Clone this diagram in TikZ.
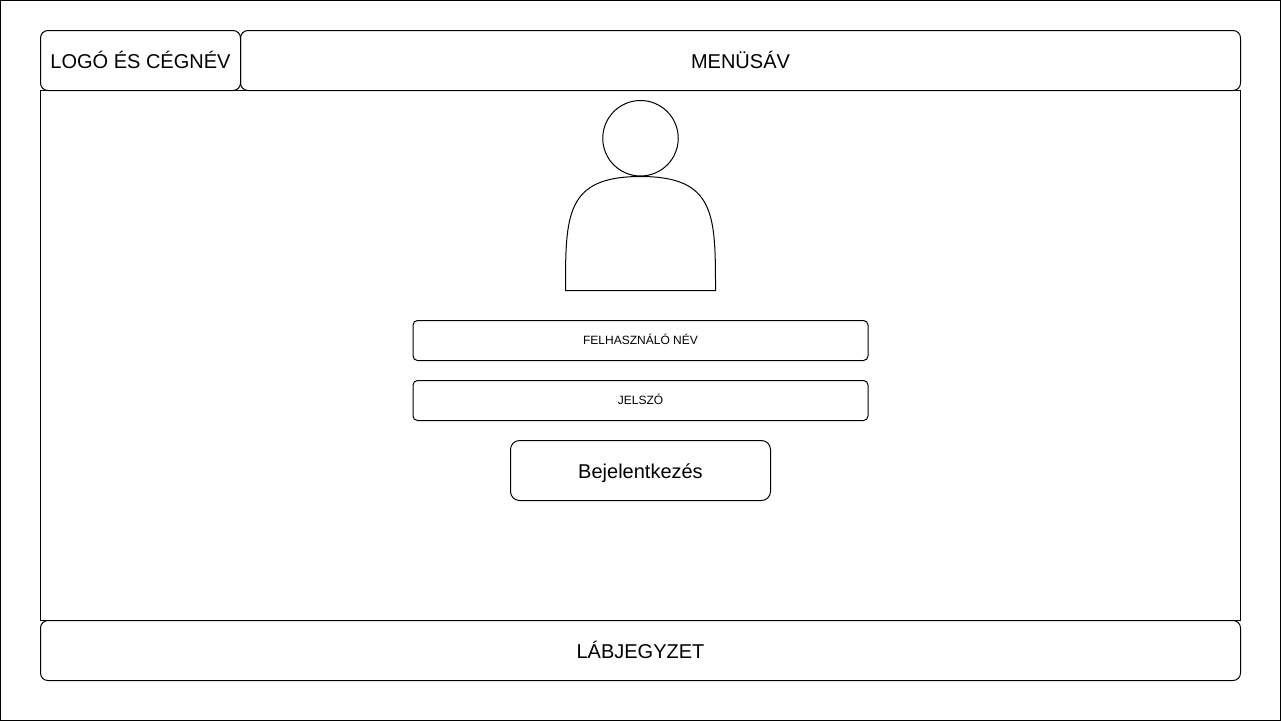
\documentclass[tikz,border=0pt]{standalone}
\usepackage{fontspec}
\setmainfont{Liberation Sans}
\usetikzlibrary{positioning}

\begin{document}
\begin{tikzpicture}[x=1pt, y=-1pt, every node/.style={draw=black, line width=1pt, inner sep=0pt, align=center},
    every path/.style={line width=1pt}]

    \tikzset{
        panel/.style={rounded corners=7.5pt, minimum height=60pt},
        inputbox/.style={rounded corners=4.5pt, minimum width=455pt, minimum height=40pt, text height=8pt, text depth=0pt, font=\fontsize{12}{14}\selectfont},
        bigtext/.style={text height=15pt, text depth=0pt, font=\fontsize{20}{24}\selectfont}
    }

    \node[minimum width=1280pt, minimum height=720pt] (page) at (640.5,360.5) {};
    \useasboundingbox (0,0) rectangle (1281,721);

    \node[panel, bigtext, minimum width=200pt] (logo) at (140.5,60.5) {LOGÓ ÉS CÉGNÉV};
    \node[panel, bigtext, minimum width=1000pt] (menu) at (740.5,60.5) {MENÜSÁV};

    \node[minimum width=1200pt, minimum height=530pt] (main) at (640.5,355.5) {};

    \node[panel, bigtext, minimum width=1200pt] (footer) at (640.5,650.5) {LÁBJEGYZET};

    % user icon
    \node[circle, minimum size=75.5pt] (head) at (640.5,138.25) {};
    \draw (565.5,290.5) -- (715.5,290.5)
        .. controls (715.5,215) and (715.5,176.5) .. (640.5,176.5)
        .. controls (565.5,176.5) and (565.5,215) .. (565.5,290.5) -- cycle;

    \node[inputbox] (user) at (640.5,340.5) {FELHASZNÁLÓ NÉV};
    \node[inputbox] (pass) at (640.5,400.5) {JELSZÓ};

    \node[bigtext, rounded corners=9pt, minimum width=260pt, minimum height=60pt] (login) at (640.5,470.5) {Bejelentkezés};

\end{tikzpicture}
\end{document}
